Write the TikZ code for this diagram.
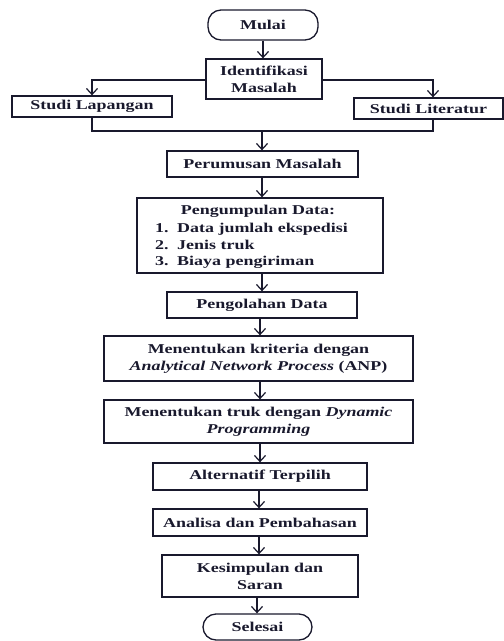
\documentclass[tikz,border=0pt]{standalone}
\usepackage{fontspec}
\setmainfont{Liberation Serif}[FakeStretch=1.33]
\usetikzlibrary{arrows.meta}
\definecolor{ink}{RGB}{25,25,45}
\begin{document}
\begin{tikzpicture}[x=1pt,y=-1pt,
  every node/.style={font=\fontsize{13.5}{17}\selectfont\bfseries, text=ink, inner sep=0pt, align=center},
  box/.style={draw=ink, line width=1.3pt},
  term/.style={draw=ink, line width=1.3pt, rounded corners=13pt},
  line/.style={draw=ink, line width=1.2pt},
  arr/.style={line, -{Straight Barb[length=6pt,width=11pt,line width=1.2pt]}}]
\useasboundingbox (0,0) rectangle (504,641);
\node[term, minimum width=110pt, minimum height=30pt] (mulai) at (263,25) {Mulai};
\node[box, minimum width=116pt, minimum height=40pt] (ident) at (264,79) {Identifikasi\\Masalah};
\node[box, minimum width=160pt, minimum height=21pt] (lap) at (92,106.5) {Studi Lapangan};
\node[box, minimum width=149pt, minimum height=21pt] (lit) at (428.5,108.5) {Studi Literatur};
\node[box, minimum width=191pt, minimum height=26pt] (rumus) at (262.5,164) {Perumusan Masalah};
\node[box, minimum width=246pt, minimum height=75pt] (kumpul) at (260,235.5) {};
\node[anchor=base] (kh) at (258,214) {Pengumpulan Data:};
\node[anchor=base west] (n1) at (155,232) {1.};
\node[anchor=base west] (t1) at (177,232) {Data jumlah ekspedisi};
\node[anchor=base west] (n2) at (155,249) {2.};
\node[anchor=base west] (t2) at (177,249) {Jenis truk};
\node[anchor=base west] (n3) at (155,265) {3.};
\node[anchor=base west] (t3) at (177,265) {Biaya pengiriman};
\node[box, minimum width=190pt, minimum height=26pt] (olah) at (262,305) {Pengolahan Data};
\node[box, minimum width=309pt, minimum height=45pt] (krit) at (258.5,358.5) {Menentukan kriteria dengan\\\textit{Analytical Network Process} (ANP)};
\node[box, minimum width=309pt, minimum height=43pt] (dyn) at (258.5,421.5) {Menentukan truk dengan \textit{Dynamic}\\\textit{Programming}};
\node[box, minimum width=214pt, minimum height=27pt] (alt) at (260,476.5) {Alternatif Terpilih};
\node[box, minimum width=214pt, minimum height=27pt] (ana) at (260,522.5) {Analisa dan Pembahasan};
\node[box, minimum width=196pt, minimum height=42pt] (kes) at (260,576) {Kesimpulan dan\\Saran};
\node[term, minimum width=109pt, minimum height=26pt] (sel) at (257.5,627) {Selesai};
\coordinate (jl) at (92,131);
\coordinate (jr) at (433,131);
\coordinate (jm) at (262,131);
\draw[arr] (mulai.south) -- (mulai.south |- ident.north);
\draw[arr] (ident.west |- 0,80) -| (lap.north);
\draw[arr] (ident.east |- 0,80) -| (433,0 |- lit.north);
\draw[line] (lap.south) -- (jl) -- (jr) -- (jr |- lit.south);
\draw[arr] (jm) -- (jm |- rumus.north);
\draw[arr] (rumus.south -| jm) -- (jm |- kumpul.north);
\draw[arr] (kumpul.south -| jm) -- (jm |- olah.north);
\draw[arr] (olah.south -| 260,0) -- (260,0 |- krit.north);
\draw[arr] (krit.south -| 260,0) -- (260,0 |- dyn.north);
\draw[arr] (dyn.south -| 260,0) -- (260,0 |- alt.north);
\draw[arr] (alt.south -| 259,0) -- (259,0 |- ana.north);
\draw[arr] (ana.south -| 259,0) -- (259,0 |- kes.north);
\draw[arr] (kes.south -| 257,0) -- (257,0 |- sel.north);
\end{tikzpicture}
\end{document}
